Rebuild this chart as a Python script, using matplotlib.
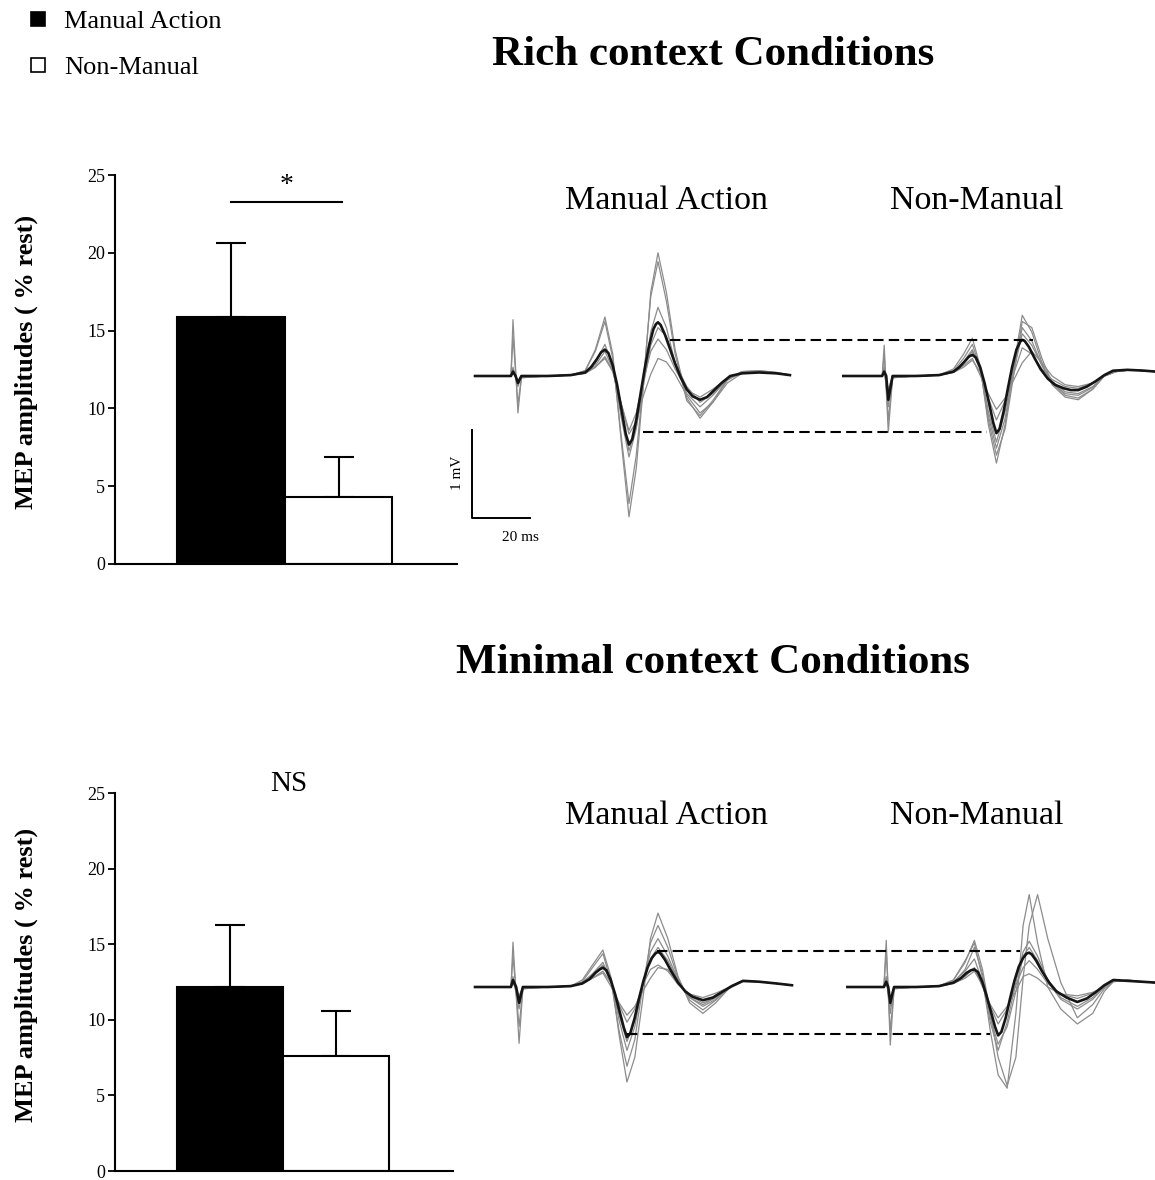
import numpy as np
import matplotlib
matplotlib.use('Agg')
import matplotlib.pyplot as plt
from matplotlib.lines import Line2D

plt.rcParams['font.family'] = ['Liberation Serif', 'DejaVu Serif']

# MEP amplitudes (% rest), mean and upper error
conditions = ['Manual Action', 'Non-Manual']
rich_mean = [15.9, 4.3]
rich_err = [4.75, 2.6]
minimal_mean = [12.2, 7.6]
minimal_err = [4.05, 2.95]
bar_colors = ['black', 'white']

# ---- EMG traces: time (ms) and amplitude (mV) ----
# rich context, manual action
rm_mean_t = [0, 12.4, 13.1, 14.0, 14.8, 16, 25, 33, 38, 40, 42, 43.5, 44.8, 46, 47.5, 49, 50.5, 52,
             53.1, 54.2, 55.6, 57, 58.5, 60, 61.5, 62.4, 63.1, 64, 65.5, 67, 69, 71, 73, 75, 77.6,
             80, 82.5, 85, 88, 92, 98, 104, 108.6]
rm_mean = [0, 0, 0.05, 0.0, -0.08, 0, 0, 0.01, 0.04, 0.10, 0.19, 0.27, 0.30, 0.26, 0.12, -0.10,
           -0.38, -0.66, -0.78, -0.72, -0.50, -0.22, 0.08, 0.34, 0.53, 0.59, 0.61, 0.58, 0.47, 0.33,
           0.14, -0.02, -0.15, -0.23, -0.27, -0.24, -0.16, -0.08, 0.0, 0.03, 0.04, 0.03, 0.01]
rm_t = [0, 12.4, 13.1, 14.8, 16, 25, 33, 38, 41.5, 44.8, 47.5, 50.3, 53.1, 55.6, 58.1, 60.6,
        63.1, 66, 69, 73, 77.6, 82, 87, 92, 98, 104, 108.6]
rm_trials = [
    [0, 0, 0.64, -0.42, -0.02, 0, 0.01, 0.06, 0.30, 0.67, 0.25, -0.70, -1.60, -1.05, -0.10, 0.95,
     1.40, 0.95, 0.30, -0.25, -0.48, -0.30, -0.05, 0.05, 0.06, 0.04, 0.01],
    [0, 0, 0.45, -0.32, -0.02, 0, 0.01, 0.06, 0.28, 0.62, 0.20, -0.65, -1.45, -0.90, -0.05, 0.90,
     1.30, 0.85, 0.25, -0.28, -0.45, -0.28, -0.04, 0.05, 0.06, 0.04, 0.01],
    [0, 0, 0.10, -0.12, 0, 0, 0.01, 0.04, 0.15, 0.36, 0.12, -0.45, -0.92, -0.60, -0.05, 0.50,
     0.78, 0.55, 0.15, -0.20, -0.35, -0.22, -0.04, 0.04, 0.05, 0.03, 0.01],
    [0, 0, 0.06, -0.06, 0, 0, 0.01, 0.03, 0.10, 0.22, 0.06, -0.30, -0.62, -0.42, -0.05, 0.28,
     0.42, 0.30, 0.08, -0.16, -0.24, -0.15, -0.03, 0.03, 0.04, 0.03, 0.01],
    [0, 0, 0.04, -0.05, 0, 0, 0.01, 0.03, 0.10, 0.20, 0.05, -0.30, -0.66, -0.52, -0.22, 0.02,
     0.20, 0.16, 0.02, -0.22, -0.42, -0.30, -0.08, 0.03, 0.05, 0.03, 0.01],
    [0, 0, 0.08, -0.10, 0, 0, 0.01, 0.04, 0.12, 0.28, 0.08, -0.38, -0.85, -0.58, -0.10, 0.35,
     0.55, 0.45, 0.15, -0.12, -0.30, -0.20, -0.04, 0.04, 0.05, 0.03, 0.01],
]

# rich context, non-manual
rn_mean_t = [0, 13.4, 14.1, 14.8, 15.5, 17, 25, 33, 38, 40, 42, 43.3, 44.5, 45.7, 47.2, 48.7, 50.2,
             51.7, 52.8, 53.9, 55.3, 56.7, 58.2, 59.7, 61, 61.7, 62.5, 64, 66, 68, 70.5, 73, 76,
             78.5, 81, 84, 87, 90, 93, 98, 104, 107.6]
rn_mean = [0, 0, 0.05, 0.0, -0.27, 0, 0, 0.01, 0.05, 0.10, 0.17, 0.22, 0.24, 0.21, 0.10, -0.08,
           -0.30, -0.53, -0.65, -0.60, -0.40, -0.15, 0.10, 0.30, 0.39, 0.41, 0.40, 0.33, 0.20, 0.08,
           -0.03, -0.10, -0.14, -0.16, -0.16, -0.12, -0.06, 0.01, 0.06, 0.07, 0.06, 0.05]
rn_t = [0, 13.4, 14.1, 15.5, 17, 25, 33, 38, 41.5, 44.5, 47.3, 50, 52.8, 55.8, 58.7, 61.7,
        65, 68.5, 72, 76.5, 81, 86, 90, 94, 99, 104, 107.6]
rn_trials = [
    [0, 0, 0.35, -0.64, -0.02, 0, 0.01, 0.08, 0.25, 0.43, 0.10, -0.55, -0.99, -0.55, 0.10, 0.69,
     0.50, 0.15, -0.10, -0.24, -0.27, -0.15, 0.0, 0.06, 0.07, 0.06, 0.05],
    [0, 0, 0.25, -0.50, -0.02, 0, 0.01, 0.06, 0.20, 0.36, 0.08, -0.50, -0.90, -0.60, 0.0, 0.62,
     0.55, 0.20, -0.08, -0.22, -0.25, -0.15, 0.0, 0.05, 0.07, 0.06, 0.05],
    [0, 0, 0.10, -0.35, 0, 0, 0.01, 0.05, 0.15, 0.28, 0.06, -0.40, -0.75, -0.40, 0.05, 0.48,
     0.35, 0.12, -0.06, -0.18, -0.20, -0.12, 0.0, 0.05, 0.07, 0.06, 0.05],
    [0, 0, 0.05, -0.20, 0, 0, 0.01, 0.04, 0.10, 0.18, 0.04, -0.25, -0.50, -0.28, 0.02, 0.32,
     0.25, 0.08, -0.04, -0.12, -0.14, -0.08, 0.0, 0.05, 0.07, 0.06, 0.05],
    [0, 0, 0.05, -0.15, 0, 0, 0.01, 0.04, 0.12, 0.20, 0.0, -0.20, -0.38, -0.25, -0.05, 0.15,
     0.28, 0.15, 0.0, -0.10, -0.12, -0.08, 0.0, 0.05, 0.07, 0.06, 0.05],
    [0, 0, 0.08, -0.30, 0, 0, 0.01, 0.05, 0.16, 0.30, 0.08, -0.45, -0.82, -0.48, 0.05, 0.55,
     0.40, 0.12, -0.08, -0.20, -0.22, -0.13, 0.0, 0.05, 0.07, 0.06, 0.05],
]

# minimal context, manual action
mm_mean_t = [0, 12.4, 13.1, 14.2, 15.2, 16.5, 25, 33, 37, 39.5, 41.5, 43, 44.1, 45.3, 46.8, 48.3,
             49.8, 51.3, 52.4, 53.5, 55, 56.5, 58, 59.5, 61, 62.2, 63.1, 64, 65.5, 67.5, 70, 72.5,
             75, 78.6, 82, 85, 88.5, 92.4, 98, 104, 109.3]
mm_mean = [0, 0, 0.08, 0.0, -0.18, 0, 0, 0.01, 0.04, 0.09, 0.16, 0.20, 0.22, 0.19, 0.08, -0.08,
           -0.27, -0.46, -0.57, -0.53, -0.36, -0.14, 0.06, 0.22, 0.33, 0.38, 0.40, 0.38, 0.31, 0.19,
           0.05, -0.05, -0.11, -0.15, -0.12, -0.06, 0.01, 0.07, 0.06, 0.04, 0.02]
mm_t = [0, 12.4, 13.1, 15.2, 16.5, 25, 33, 37, 40.5, 44.1, 47, 49.7, 52.4, 55.1, 57.8, 60.5,
        63.1, 66.5, 70, 74, 78.6, 83, 88, 92.4, 98, 104, 109.3]
mm_trials = [
    [0, 0, 0.51, -0.64, -0.02, 0, 0.01, 0.08, 0.25, 0.42, 0.10, -0.55, -1.08, -0.80, -0.15, 0.55,
     0.84, 0.55, 0.12, -0.18, -0.30, -0.18, 0.0, 0.07, 0.06, 0.04, 0.02],
    [0, 0, 0.35, -0.45, -0.02, 0, 0.01, 0.06, 0.22, 0.38, 0.05, -0.50, -0.90, -0.60, 0.0, 0.50,
     0.70, 0.45, 0.10, -0.15, -0.26, -0.15, 0.0, 0.07, 0.06, 0.04, 0.02],
    [0, 0, 0.12, -0.25, 0, 0, 0.01, 0.05, 0.15, 0.28, 0.06, -0.38, -0.72, -0.45, 0.02, 0.40,
     0.55, 0.35, 0.08, -0.12, -0.20, -0.12, 0.0, 0.07, 0.06, 0.04, 0.02],
    [0, 0, 0.06, -0.12, 0, 0, 0.01, 0.04, 0.10, 0.18, 0.04, -0.20, -0.40, -0.25, 0.02, 0.20,
     0.25, 0.18, 0.03, -0.08, -0.12, -0.07, 0.0, 0.07, 0.06, 0.04, 0.02],
    [0, 0, 0.05, -0.10, 0, 0, 0.01, 0.04, 0.10, 0.16, 0.0, -0.18, -0.32, -0.22, -0.05, 0.10,
     0.22, 0.20, 0.05, -0.10, -0.18, -0.12, -0.01, 0.06, 0.06, 0.04, 0.02],
    [0, 0, 0.08, -0.18, 0, 0, 0.01, 0.05, 0.14, 0.25, 0.05, -0.32, -0.62, -0.38, 0.02, 0.32,
     0.45, 0.30, 0.07, -0.12, -0.22, -0.14, 0.0, 0.07, 0.06, 0.04, 0.02],
]

# minimal context, non-manual
mn_mean_t = [1.4, 14.0, 14.8, 15.5, 16.2, 17.5, 25, 33, 38, 40.5, 42.5, 44, 45.2, 46.4, 47.9, 49.4,
             50.9, 52.3, 53.4, 54.5, 56, 57.5, 59, 60.5, 62, 63.2, 64.1, 65, 66.5, 68.5, 71, 73.5,
             77, 80.7, 84, 87, 90, 93.1, 98, 103, 107.6]
mn_mean = [0, 0, 0.06, 0.0, -0.18, 0, 0, 0.01, 0.05, 0.10, 0.16, 0.19, 0.20, 0.17, 0.06, -0.10,
           -0.28, -0.45, -0.55, -0.51, -0.35, -0.13, 0.07, 0.23, 0.33, 0.38, 0.39, 0.37, 0.30, 0.18,
           0.05, -0.05, -0.12, -0.17, -0.13, -0.06, 0.02, 0.08, 0.07, 0.06, 0.05]
mn_t = [1.4, 14.0, 14.8, 16.2, 17.5, 25, 33, 38, 42, 45.2, 48, 50.7, 53.4, 56.5, 59.5, 62,
        64.1, 67, 70.5, 75, 80.7, 86, 90, 93.1, 98, 103, 107.6]
mn_trials = [
    [0, 0, 0.53, -0.66, -0.02, 0, 0.01, 0.08, 0.30, 0.50, 0.10, -0.50, -1.00, -1.15, -0.30, 0.70,
     1.05, 0.50, 0.0, -0.25, -0.42, -0.30, -0.05, 0.06, 0.08, 0.06, 0.05],
    [0, 0, 0.40, -0.50, -0.02, 0, 0.01, 0.08, 0.28, 0.53, 0.20, -0.30, -0.80, -1.12, -0.80, 0.10,
     0.70, 1.05, 0.55, 0.05, -0.35, -0.20, -0.02, 0.06, 0.08, 0.06, 0.05],
    [0, 0, 0.12, -0.30, 0, 0, 0.01, 0.06, 0.18, 0.32, 0.06, -0.40, -0.72, -0.40, 0.05, 0.40,
     0.52, 0.35, 0.08, -0.12, -0.22, -0.12, 0.0, 0.07, 0.07, 0.06, 0.05],
    [0, 0, 0.06, -0.15, 0, 0, 0.01, 0.04, 0.10, 0.18, 0.02, -0.22, -0.42, -0.25, 0.02, 0.22,
     0.30, 0.20, 0.04, -0.08, -0.13, -0.07, 0.0, 0.07, 0.07, 0.06, 0.05],
    [0, 0, 0.05, -0.12, 0, 0, 0.01, 0.04, 0.12, 0.22, 0.0, -0.20, -0.35, -0.22, -0.05, 0.12,
     0.15, 0.10, 0.0, -0.08, -0.10, -0.06, 0.0, 0.07, 0.07, 0.06, 0.05],
    [0, 0, 0.08, -0.22, 0, 0, 0.01, 0.05, 0.20, 0.45, 0.15, -0.35, -0.65, -0.45, -0.05, 0.35,
     0.45, 0.30, 0.06, -0.14, -0.25, -0.14, 0.0, 0.07, 0.07, 0.06, 0.05],
]

nm_offset = 127  # ms between the two trace groups on a row

# reference levels (dashed): level mV, start ms, end ms
rich_dash_y = [0.41, -0.64]
rich_dash_x0 = [67.2, 57.9]
rich_dash_x1 = [192.4, 176.6]
minimal_dash_y = [0.41, -0.53]
minimal_dash_x0 = [62.8, 52.4]
minimal_dash_x1 = [187.9, 177.6]

W, H = 1155, 1180
fig = plt.figure(figsize=(W / 100, H / 100), dpi=100)


def px_axes(l, t, r, b):
    return fig.add_axes([l / W, 1 - b / H, (r - l) / W, (b - t) / H])


def bar_panel(ax, means, errs):
    x = np.arange(len(means))
    ax.bar(x, means, width=1.0, color=bar_colors, edgecolor='black', linewidth=1.5, zorder=2)
    ax.errorbar(x, means, yerr=[np.zeros(len(errs)), errs], fmt='none', ecolor='black',
                elinewidth=1.5, capsize=11, capthick=1.5, zorder=1)
    ax.set_xlim(-1.08, 2.1)
    ax.set_ylim(0, 25)
    ax.set_yticks([0, 5, 10, 15, 20, 25])
    ax.set_xticks([])
    for s in ['top', 'right']:
        ax.spines[s].set_visible(False)
    for s in ['left', 'bottom']:
        ax.spines[s].set_linewidth(1.5)
    ax.tick_params(axis='y', direction='out', length=5, width=1.3, labelsize=13, pad=2)
    ax.set_ylabel('MEP amplitudes ( % rest)', fontsize=19, fontweight='bold')
    ax.yaxis.set_label_coords(-0.225, 0.52)


def trace_panel(ax, groups, dash_y, dash_x0, dash_x1):
    for mt, mean, t, trials, off in groups:
        tt = np.array(t) + off
        for tr in trials:
            ax.plot(tt, tr, color='#8c8c8c', lw=0.9, solid_joinstyle='round', zorder=1)
        ax.plot(np.array(mt) + off, mean, color='#151515', lw=1.9,
                solid_joinstyle='round', zorder=2)
    ax.hlines(dash_y, dash_x0, dash_x1, colors='black', lw=1.5,
              linestyles=(0, (5, 2.5)), zorder=3)
    ax.set_xlim(-12.07, 234.48)
    ax.axis('off')


# ---- top row: rich context ----
ax1 = px_axes(115, 175, 457, 564)
bar_panel(ax1, rich_mean, rich_err)
ax1.plot([0, 1.03], [23.27, 23.27], color='black', lw=1.5, clip_on=False)
ax1.text(0.52, 24.3, '*', ha='center', va='center', fontsize=20, clip_on=False)

ax2 = px_axes(440, 230, 1155, 560)
trace_panel(ax2, [(rm_mean_t, rm_mean, rm_t, rm_trials, 0),
                  (rn_mean_t, rn_mean, rn_t, rn_trials, nm_offset)],
            rich_dash_y, rich_dash_x0, rich_dash_x1)
ax2.set_ylim(-2.091, 1.659)
# scale bar: 1 mV, 20 ms
ax2.plot([-1.03, -1.03, 18.97], [-0.614, -1.614, -1.614], color='black', lw=1.4, clip_on=False)
ax2.text(-6.2, -1.10, '1 mV', rotation=90, ha='center', va='center', fontsize=11)
ax2.text(15.5, -1.83, '20 ms', ha='center', va='center', fontsize=11)

# ---- bottom row: minimal context ----
ax3 = px_axes(115, 793, 453, 1171)
bar_panel(ax3, minimal_mean, minimal_err)
ax3.yaxis.set_label_coords(-0.228, 0.52)
ax3.text(0.55, 25.6, 'NS', ha='center', va='center', fontsize=21, clip_on=False)

ax4 = px_axes(440, 850, 1155, 1130)
trace_panel(ax4, [(mm_mean_t, mm_mean, mm_t, mm_trials, 0),
                  (mn_mean_t, mn_mean, mn_t, mn_trials, nm_offset)],
            minimal_dash_y, minimal_dash_x0, minimal_dash_x1)
ax4.set_ylim(-1.625, 1.557)

# ---- texts ----
fig.text(713 / W, 1 - 65 / H, 'Rich context Conditions', ha='center', va='baseline',
         fontsize=31, fontweight='bold')
fig.text(713 / W, 1 - 673 / H, 'Minimal context Conditions', ha='center', va='baseline',
         fontsize=31, fontweight='bold')
for y in [209, 824]:
    fig.text(666 / W, 1 - y / H, conditions[0], ha='center', va='baseline', fontsize=24.5)
    fig.text(977 / W, 1 - y / H, conditions[1], ha='center', va='baseline', fontsize=24.5)

handles = [Line2D([], [], ls='none', marker='s', markersize=10, markerfacecolor=c,
                  markeredgecolor='black', markeredgewidth=1.2) for c in bar_colors]
fig.legend(handles, conditions, loc='upper left', bbox_to_anchor=(0.012, 1.003),
           frameon=False, fontsize=19, handlelength=0.8, handletextpad=0.6,
           labelspacing=0.85, borderaxespad=0.1)

fig.savefig('out.png', dpi=100)
